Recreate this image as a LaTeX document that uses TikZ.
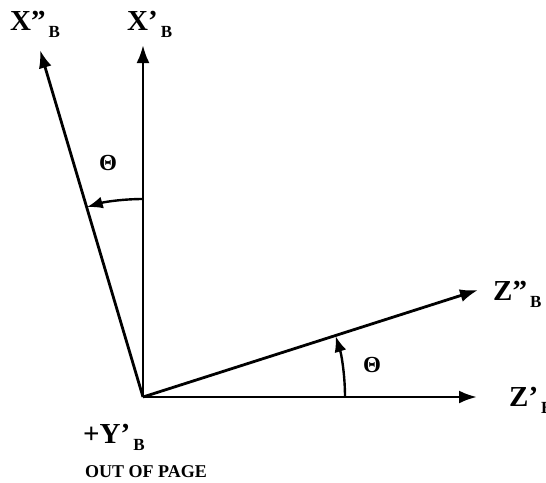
\documentclass[tikz,border=0pt]{standalone}
\usepackage{fontspec}
\setmainfont{Liberation Serif}
\usetikzlibrary{arrows.meta}
\newcommand{\axlab}[2]{\fontsize{29}{29}\selectfont\bfseries #1\hspace{3pt}\raisebox{-7pt}{\fontsize{17}{17}\selectfont #2}}
\tikzset{
  axis/.style={line width=2.8pt,-{Latex[length=18pt,width=13pt]}},
  angarc/.style={line width=2.4pt,-{Latex[length=16pt,width=12pt]}},
  lab/.style={inner sep=0pt,anchor=base west},
  theta/.style={inner sep=0pt,font=\fontsize{23}{23}\selectfont\bfseries}
}
\begin{document}
\begin{tikzpicture}[x=1pt,y=-1pt]
\useasboundingbox (0,0) rectangle (546,482);
\coordinate (O) at (143,397);
\coordinate (Xp) at (143,45);
\coordinate (Xpp) at (40,50);
\coordinate (Zp) at (477,397);
\coordinate (Zpp) at (478,290);
\draw[axis] (O) -- (Xp);
\draw[axis] (O) -- (Xpp);
\draw[axis] (O) -- (Zp);
\draw[axis] (O) -- (Zpp);
\coordinate (A1) at (143,199);
\coordinate (A2) at (345,397);
\draw[angarc] (A1) arc[start angle=-90,end angle=-106.5,radius=198];
\draw[angarc] (A2) arc[start angle=0,end angle=-17.6,radius=202];
\node[theta] (t1) at (108,163) {Θ};
\node[theta] (t2) at (372,365) {Θ};
\node[lab] (lxpp) at (10,30) {\axlab{X”}{B}};
\node[lab] (lxp) at (127,30) {\axlab{X’}{B}};
\node[lab] (lzpp) at (493,300) {\axlab{Z”}{B}};
\node[lab] (lzp) at (509,406) {\axlab{Z’}{B}};
\node[lab] (ly) at (84,443) {\axlab{\hspace{-1pt}+Y’}{B}};
\node[lab,font=\fontsize{18}{18}\selectfont\bfseries] (lo) at (85,477) {OUT OF PAGE};
\end{tikzpicture}
\end{document}
